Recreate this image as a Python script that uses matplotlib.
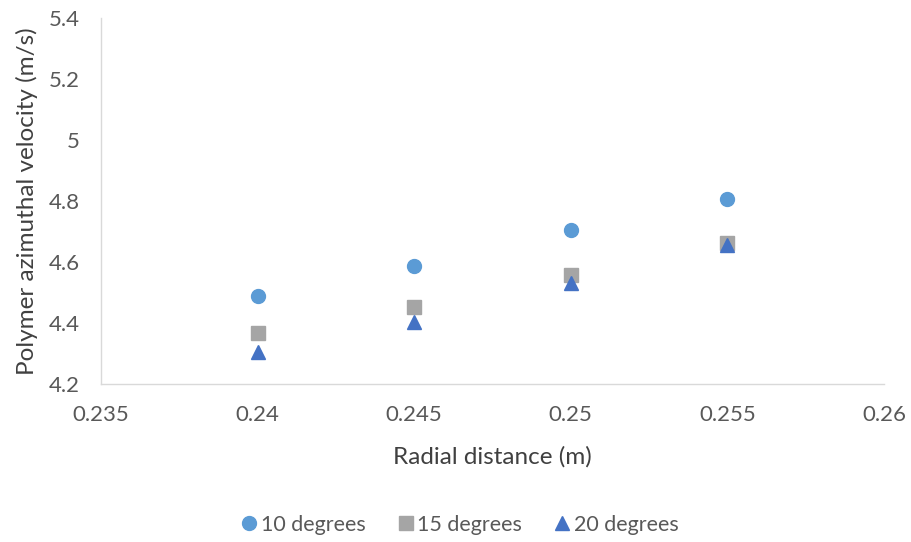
import matplotlib
matplotlib.use("Agg")
import matplotlib.pyplot as plt

# Radial positions (m) and azimuthal velocity (m/s) for each inclination
radial = [0.24, 0.245, 0.25, 0.255]
vel_10deg = [4.489, 4.588, 4.705, 4.807]
vel_15deg = [4.367, 4.453, 4.557, 4.661]
vel_20deg = [4.305, 4.404, 4.530, 4.656]

series_labels = ["10 degrees", "15 degrees", "20 degrees"]
x_ticks = [0.235, 0.24, 0.245, 0.25, 0.255, 0.26]
x_tick_labels = ["0.235", "0.24", "0.245", "0.25", "0.255", "0.26"]
y_ticks = [4.2, 4.4, 4.6, 4.8, 5.0, 5.2, 5.4]
y_tick_labels = ["4.2", "4.4", "4.6", "4.8", "5", "5.2", "5.4"]

plt.rcParams["font.family"] = ["Lato", "DejaVu Sans"]

fig = plt.figure(figsize=(9.12, 5.42), dpi=100)
ax = fig.add_axes([101 / 912, 1 - 384 / 542, (884 - 101) / 912, (384 - 18) / 542])

ax.plot(radial, vel_10deg, linestyle="none", marker="o", markersize=10,
        color="#5B9BD5", label=series_labels[0])
ax.plot(radial, vel_15deg, linestyle="none", marker="s", markersize=9.5,
        color="#A5A5A5", label=series_labels[1])
ax.plot(radial, vel_20deg, linestyle="none", marker="^", markersize=10.5,
        color="#4472C4", label=series_labels[2])

ax.set_xlim(0.235, 0.26)
ax.set_ylim(4.2, 5.4)
ax.set_xticks(x_ticks)
ax.set_xticklabels(x_tick_labels)
ax.set_yticks(y_ticks)
ax.set_yticklabels(y_tick_labels)

for side in ("top", "right"):
    ax.spines[side].set_visible(False)
for side in ("left", "bottom"):
    ax.spines[side].set_color("#D9D9D9")
    ax.spines[side].set_linewidth(1.0)

ax.tick_params(axis="both", length=0, labelsize=16, colors="#595959")
ax.tick_params(axis="x", pad=15)
ax.tick_params(axis="y", pad=15)

ax.set_xlabel("Radial distance (m)", fontsize=17.5, color="#404040", labelpad=15)
ax.set_ylabel("Polymer azimuthal velocity (m/s)", fontsize=17.5, color="#404040", labelpad=8)

fig.legend(loc="center", bbox_to_anchor=(458 / 912, 1 - 525 / 542), ncol=3,
           frameon=False, fontsize=15.5, labelcolor="#595959",
           handletextpad=0.0, columnspacing=1.3, handlelength=1.1)

fig.savefig("out.png", dpi=100)
